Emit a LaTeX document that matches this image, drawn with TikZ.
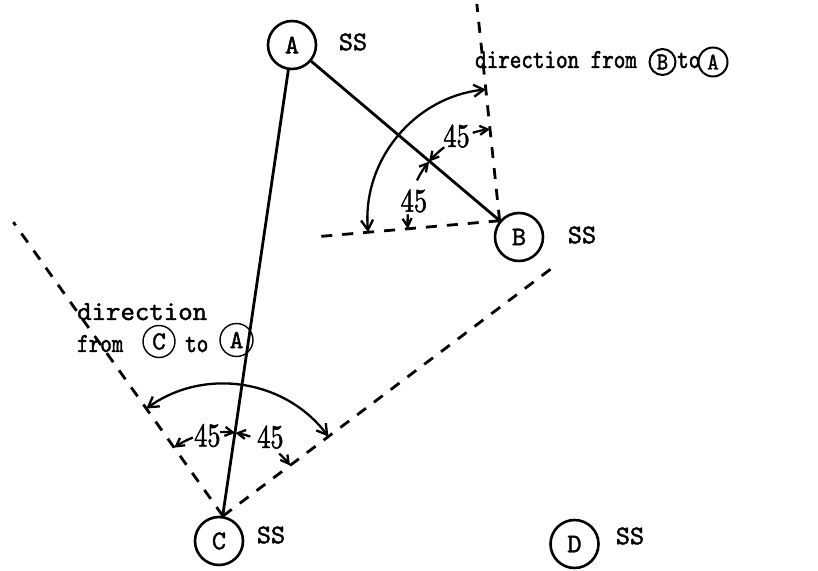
\documentclass[tikz,border=0pt]{standalone}
\usepackage{fontspec}
\newfontfamily\twf{lmmono10-regular.otf}[FakeBold=1.6]
\newfontfamily\twn{lmmono10-regular.otf}[FakeBold=1.6, FakeStretch=0.8]
\newfontfamily\twm{lmmono10-regular.otf}[FakeBold=1.6, FakeStretch=0.9]
\newfontfamily\numf{lmroman10-regular.otf}[FakeBold=1.6, FakeStretch=0.8]
\usetikzlibrary{arrows.meta,calc}
\begin{document}
\begin{tikzpicture}[x=1pt,y=1pt,
  stn/.style={circle, draw, line width=2.6pt, minimum size=48pt, inner sep=0pt,
    font=\twf\fontsize{27}{27}\selectfont},
  tcirc/.style={circle, draw, line width=2pt, inner sep=0pt,
    font=\twm\fontsize{24}{24}\selectfont},
  lcirc/.style={circle, draw, line width=1.4pt, inner sep=0pt,
    font=\twf\fontsize{26}{26}\selectfont},
  ss/.style={inner sep=0pt, font=\twf\fontsize{27}{27}\selectfont},
  lbl/.style={inner sep=0pt, anchor=base west, font=\twn\fontsize{27.5}{27.5}\selectfont},
  widelbl/.style={inner sep=0pt, anchor=base west, font=\twf\fontsize{27.5}{27.5}\selectfont},
  solidln/.style={line width=2.8pt},
  dsh/.style={line width=2.8pt, dash pattern=on 11pt off 10pt},
  bigarc/.style={line width=2.3pt, {Straight Barb[length=10pt,width=12pt]}-{Straight Barb[length=10pt,width=12pt]}},
  smarc/.style={line width=2.3pt, -{Straight Barb[length=8pt,width=9pt]}},
  num/.style={inner sep=0pt, font=\numf\fontsize{33}{33}\selectfont}
]
\useasboundingbox (0,0) rectangle (818,570);
% stations
\node[stn] (A) at (292,525) {A};
\node[stn] (B) at (519,333) {B};
\node[stn] (C) at (219,29) {C};
\node[stn] (D) at (574.5,26) {D};
\node[ss] (sA) at (353,528) {SS};
\node[ss] (sB) at (582,335) {SS};
\node[ss] (sC) at (271,35) {SS};
\node[ss] (sD) at (630,34) {SS};
% solid lines
\draw[solidln] (A) -- (B);
\draw[solidln] (A) -- (C);
% vertices
\coordinate (VB) at (B.140);
\coordinate (VC) at (C.81.6);
% dashed lines
\coordinate (VBu) at ($(VB)+(96:218)$);
\coordinate (VBl) at ($(VB)+(185:184)$);
\coordinate (VCl) at ($(VC)+(125.5:361)$);
\coordinate (VCr) at ($(VC)+(37:416)$);
\draw[dsh] (VB) -- (VBu);
\draw[dsh] (VB) -- (VBl);
\draw[dsh] (VC) -- (VCl);
\draw[dsh] (VC) -- (VCr);
% big arcs
\draw[bigarc] ($(VB)+(185:132)$) arc[start angle=185,end angle=96,radius=132];
\draw[bigarc] ($(VC)+(125.5:132)$) arc[start angle=125.5,end angle=37,radius=132];
% small arcs at B
\draw[smarc] ($(VB)+(107:92)$) arc[start angle=107,end angle=96,radius=92];
\draw[smarc] ($(VB)+(127:92)$) arc[start angle=127,end angle=140,radius=92];
\draw[smarc] ($(VB)+(154:92)$) arc[start angle=154,end angle=140,radius=92];
\draw[smarc] ($(VB)+(176:92)$) arc[start angle=176,end angle=185,radius=92];
\node[num] (nB1) at ($(VB)+(117:95)$) {45};
\node[num] (nB2) at ($(VB)+(167:88)$) {45};
% small arcs at C
\draw[smarc] ($(VC)+(111:84)$) arc[start angle=111,end angle=125.5,radius=84];
\draw[smarc] ($(VC)+(92:84)$) arc[start angle=92,end angle=81.6,radius=84];
\draw[smarc] ($(VC)+(71:84)$) arc[start angle=71,end angle=81.6,radius=84];
\draw[smarc] ($(VC)+(48:84)$) arc[start angle=48,end angle=37,radius=84];
\node[num] (nC1) at ($(VC)+(101:82)$) {45};
\node[num] (nC2) at ($(VC)+(59:92)$) {45};
% top text
\node[lbl] (t1) at (475,502) {direction from};
\node[tcirc, minimum size=26pt] (tB) at (662.5,508) {B};
\node[lbl] (t2) at (677,502) {to};
\node[tcirc, minimum size=29pt] (tA) at (713,508) {A};
% left text
\node[widelbl] (l1) at (77,250) {direction};
\node[lbl] (l2) at (77,218) {from};
\node[lcirc, minimum size=32pt] (lC) at (159,228.5) {C};
\node[lbl] (l3) at (185,218) {to};
\node[lcirc, minimum size=33pt] (lA) at (236.5,230) {A};
\end{tikzpicture}
\end{document}
